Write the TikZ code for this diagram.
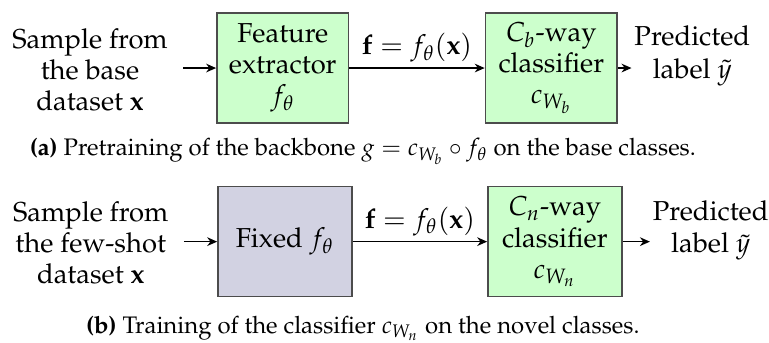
\documentclass[tikz,border=0pt]{standalone}
\usepackage[T1]{fontenc}
\usepackage{amsmath,amssymb}
\usepackage{mathpazo}
\usepackage{bm}
\usepackage{tikz}
\usetikzlibrary{arrows.meta,positioning}

\definecolor{boxgreen}{RGB}{204,255,204}
\definecolor{boxfixed}{RGB}{210,210,226}

\begin{document}
\begin{tikzpicture}[
  block/.style={
    draw=black!70, fill=#1,
    minimum width=1.86cm, minimum height=1.55cm,
    align=center, inner sep=2pt,
    font=\fontsize{11}{12.5}\selectfont, line width=0.6pt
  },
  txt/.style={align=center, inner sep=2pt,
    font=\fontsize{11}{12.5}\selectfont},
  srctxt/.style={txt, inner xsep=6pt},
  outtxt/.style={txt, inner sep=1pt,
    font=\fontsize{11}{13}\selectfont},
  arr/.style={-{Stealth[length=4pt,width=3.5pt]}, line width=0.5pt},
  captxt/.style={font=\fontsize{9.6}{11}\selectfont}]

\useasboundingbox (0,0) rectangle (10.852,-4.840);

% (a) pretraining
\node[srctxt] (src1) at (1.27,-0.99)
  {Sample from\\the base\\dataset $\mathbf{x}$};
\node[block=boxgreen] (fe) at (3.99,-0.96)
  {Feature\\extractor\\$f_\theta$};
\node[block=boxgreen] (cb) at (7.78,-0.96)
  {$C_b$-way\\classifier\\$c_{W_b}$};
\node[outtxt] (lab1) at (9.77,-0.79)
  {Predicted\\label $\tilde{y}$};

\draw[arr] (src1.east |- fe) -- (fe);
\draw[arr] (fe) -- node[above, txt] {$\mathbf{f}=f_\theta(\mathbf{x})$} (cb);
\draw[arr] (cb) -- (cb -| lab1.west);

\node[captxt] (capa) at (5.12,-2.14)
  {\textbf{(a)} Pretraining of the backbone $g=c_{W_b}\circ f_\theta$ on the base classes.};

% (b) training on novel classes
\node[srctxt] (src2) at (1.28,-3.43)
  {Sample from\\the few-shot\\dataset $\mathbf{x}$};
\node[block=boxfixed, minimum width=1.89cm] (fix) at (4.02,-3.41)
  {Fixed $f_\theta$};
\node[block=boxgreen, minimum width=1.89cm] (cn) at (7.83,-3.41)
  {$C_n$-way\\classifier\\$c_{W_n}$};
\node[outtxt] (lab2) at (10.03,-3.25)
  {Predicted\\label $\tilde{y}$};

\draw[arr] (src2.east |- fix) -- (fix);
\draw[arr] (fix) -- node[above, txt] {$\mathbf{f}=f_\theta(\mathbf{x})$} (cn);
\draw[arr] (cn) -- (cn -| lab2.west);

\node[captxt] (capb) at (5.12,-4.63)
  {\textbf{(b)} Training of the classifier $c_{W_n}$ on the novel classes.};

\end{tikzpicture}
\end{document}
